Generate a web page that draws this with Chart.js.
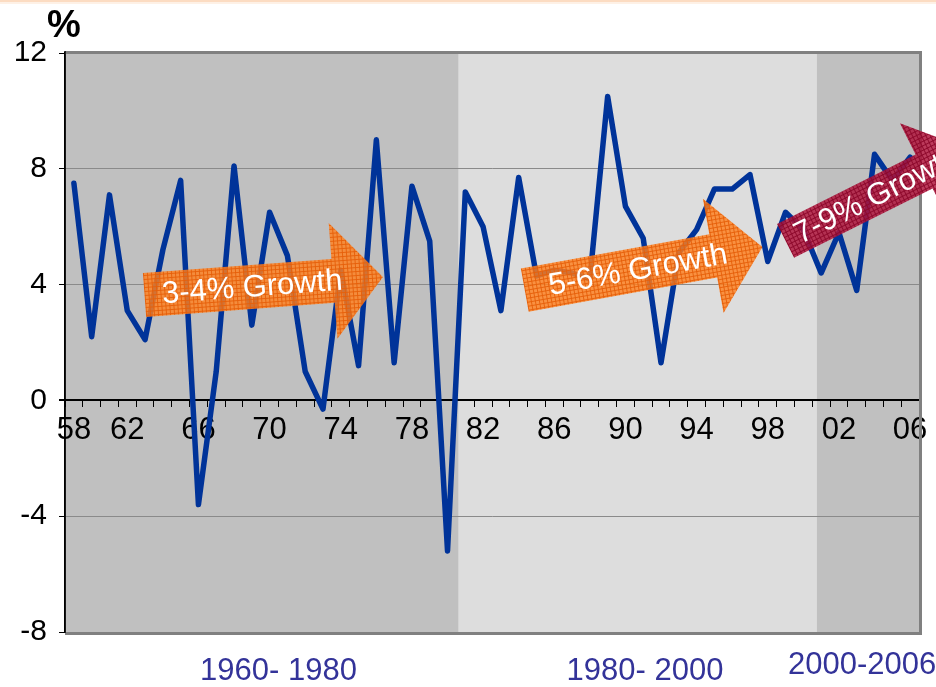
<!DOCTYPE html>
<html>
<head>
<meta charset="utf-8">
<script src="https://cdn.jsdelivr.net/npm/chart.js@4.4.1/dist/chart.umd.min.js"></script>
<style>
  html, body { margin: 0; padding: 0; background: #ffffff; }
  #wrap { width: 936px; height: 687px; position: relative; }
</style>
</head>
<body>
<div id="wrap"><canvas id="c" width="936" height="687"></canvas></div>
<script>
// ---- data ----
const years = [1958,1959,1960,1961,1962,1963,1964,1965,1966,1967,1968,1969,1970,1971,1972,1973,1974,1975,1976,1977,1978,1979,1980,1981,1982,1983,1984,1985,1986,1987,1988,1989,1990,1991,1992,1993,1994,1995,1996,1997,1998,1999,2000,2001,2002,2003,2004,2005];
const growth = [7.5,2.2,7.1,3.1,2.1,5.2,7.6,-3.6,1.0,8.1,2.6,6.5,5.0,1.0,-0.3,4.5,1.2,9.0,1.3,7.4,5.5,-5.2,7.2,6.0,3.1,7.7,4.3,4.5,4.4,4.2,10.5,6.7,5.6,1.3,5.1,5.9,7.3,7.3,7.8,4.8,6.5,5.9,4.4,5.8,3.8,8.5,7.6,8.4];
const tickLabels = ['58','62','66','70','74','78','82','86','90','94','98','02','06'];
const yTicks = [-8, -4, 0, 4, 8, 12];
const periodNames = ['1960- 1980', '1980- 2000', '2000-2006'];
const periodFrom = [-0.5, 21.63, 41.75];   // category index where each period's shading starts
const periodTo = [21.63, 41.75, 47.5];
const periodLabelAt = [11.5, 32.1, 44.3];
const arrowTexts = ['3-4% Growth', '5-6% Growth', '7-9% Growth'];
const arrowFrom = [[3.97, 3.64], [25.34, 3.81], [40.0, 5.51]];   // [index, %]
const arrowTo = [[17.37, 4.26], [38.7, 5.3], [50.3, 8.68]];

// ---- styles ----
const FONT = "'Liberation Sans', Arial, Helvetica, sans-serif";
const periodColors = ['#c0c0c0', '#dddddd', '#c0c0c0'];

const ctx0 = document.getElementById('c').getContext('2d');
function hatch(base, line) {
  const c = document.createElement('canvas');
  c.width = 4; c.height = 4;
  const g = c.getContext('2d');
  g.fillStyle = base; g.fillRect(0, 0, 4, 4);
  g.fillStyle = line; g.fillRect(0, 0, 4, 1); g.fillRect(0, 0, 1, 4);
  return ctx0.createPattern(c, 'repeat');
}
const arrowStyles = [
  { fill: hatch('rgba(255,128,30,0.82)', 'rgba(230,95,10,0.92)'), body: 22, head: 58, headLen: 50, textAt: 108 },
  { fill: hatch('rgba(255,128,30,0.82)', 'rgba(230,95,10,0.92)'), body: 22, head: 58, headLen: 50, textAt: 115 },
  { fill: hatch('rgba(175,20,60,0.84)', 'rgba(140,8,42,0.92)'), body: 19, head: 54, headLen: 50, textAt: 102 }
];

const decor = {
  id: 'decor',
  beforeDraw(chart) {
    const { ctx, chartArea: a, scales: { x } } = chart;
    ctx.save();
    ctx.fillStyle = '#fcdcc2'; ctx.fillRect(0, 0, chart.width, 2);
    ctx.fillStyle = '#fef1e6'; ctx.fillRect(0, 2, chart.width, 2);
    for (let i = 0; i < periodNames.length; i++) {
      const x0 = Math.max(a.left, x.getPixelForValue(periodFrom[i]));
      const x1 = Math.min(a.right, x.getPixelForValue(periodTo[i]));
      ctx.fillStyle = periodColors[i];
      ctx.fillRect(x0, a.top, x1 - x0, a.bottom - a.top);
    }
    ctx.restore();
  },
  afterDatasetsDraw(chart) {
    const { ctx, chartArea: a, scales: { x, y } } = chart;
    ctx.save();
    ctx.strokeStyle = '#808080';
    ctx.lineWidth = 3;
    ctx.beginPath();
    ctx.moveTo(a.left, a.top - 0.5);
    ctx.lineTo(a.right + 1.5, a.top - 0.5);
    ctx.lineTo(a.right + 1.5, a.bottom + 1.5);
    ctx.lineTo(a.left, a.bottom + 1.5);
    ctx.stroke();
    ctx.strokeStyle = '#000000';
    ctx.lineWidth = 1.5;
    ctx.beginPath();
    ctx.moveTo(a.left, a.top - 2); ctx.lineTo(a.left, a.bottom + 1);
    ctx.stroke();

    for (let i = 0; i < arrowTexts.length; i++) {
      const s = arrowStyles[i];
      const px0 = x.getPixelForValue(arrowFrom[i][0]), py0 = y.getPixelForValue(arrowFrom[i][1]);
      const px1 = x.getPixelForValue(arrowTo[i][0]), py1 = y.getPixelForValue(arrowTo[i][1]);
      const ang = Math.atan2(py1 - py0, px1 - px0);
      const len = Math.hypot(px1 - px0, py1 - py0);
      ctx.save();
      ctx.translate(px0, py0);
      ctx.rotate(ang);
      ctx.beginPath();
      ctx.moveTo(0, -s.body);
      ctx.lineTo(len - s.headLen, -s.body);
      ctx.lineTo(len - s.headLen, -s.head);
      ctx.lineTo(len, 0);
      ctx.lineTo(len - s.headLen, s.head);
      ctx.lineTo(len - s.headLen, s.body);
      ctx.lineTo(0, s.body);
      ctx.closePath();
      ctx.fillStyle = s.fill;
      ctx.fill();
      ctx.fillStyle = '#ffffff';
      ctx.font = '31px ' + FONT;
      ctx.textAlign = 'center';
      ctx.textBaseline = 'middle';
      ctx.fillText(arrowTexts[i], s.textAt, 1);
      ctx.restore();
    }

    ctx.fillStyle = '#000000';
    ctx.font = 'bold 38px ' + FONT;
    ctx.textAlign = 'center';
    ctx.textBaseline = 'middle';
    ctx.fillText('%', a.left - 1, 27);

    ctx.fillStyle = '#333399';
    ctx.font = '31px ' + FONT;
    const ly = [671, 671, 665];
    for (let i = 0; i < periodNames.length; i++) {
      ctx.fillText(periodNames[i], x.getPixelForValue(periodLabelAt[i]), ly[i]);
    }
    ctx.restore();
  }
};

new Chart(ctx0, {
  type: 'line',
  data: {
    labels: years,
    datasets: [{
      data: growth,
      borderColor: '#003399',
      borderWidth: 5.5,
      pointRadius: 0,
      tension: 0,
      borderJoinStyle: 'round',
      borderCapStyle: 'round',
      fill: false
    }]
  },
  options: {
    responsive: false,
    animation: false,
    events: [],
    layout: { padding: { top: 53, right: 17, bottom: 55, left: 0 } },
    plugins: { legend: { display: false }, tooltip: { enabled: false }, title: { display: false } },
    scales: {
      x: {
        type: 'category',
        position: { y: 0 },
        offset: true,
        grid: { display: true, offset: true, drawOnChartArea: false, drawTicks: true, tickLength: 6, color: '#000000', lineWidth: 1 },
        border: { display: true, color: '#000000', width: 2 },
        ticks: {
          autoSkip: false, maxRotation: 0, minRotation: 0, padding: 5,
          color: '#000000', font: { family: FONT, size: 31 },
          callback: function (v, i) {
            if (i === 0) return tickLabels[0];
            return ((i + 1) % 4 === 0) ? tickLabels[(i + 1) / 4] : '';
          }
        },
        afterFit(s) { s.height = 0; s.paddingLeft = 0; s.paddingRight = 0; s.paddingTop = 0; s.paddingBottom = 0; }
      },
      y: {
        min: -8, max: 12,
        afterBuildTicks(s) { s.ticks = yTicks.map(v => ({ value: v })); },
        grid: {
          drawTicks: true, tickLength: 6, tickColor: '#000000',
          color: c => (c.tick && c.tick.value === 0) ? '#000000' : (c.tick && (c.tick.value === 12 || c.tick.value === -8) ? 'rgba(0,0,0,0)' : '#8a8a8a'),
          lineWidth: c => (c.tick && c.tick.value === 0) ? 2 : 1
        },
        border: { display: true, color: '#000000', width: 1.5 },
        ticks: { padding: 12, color: '#000000', font: { family: FONT, size: 30 } },
        afterFit(s) { s.width = 65; s.paddingTop = 0; s.paddingBottom = 0; }
      }
    }
  },
  plugins: [decor]
});
</script>
</body>
</html>
